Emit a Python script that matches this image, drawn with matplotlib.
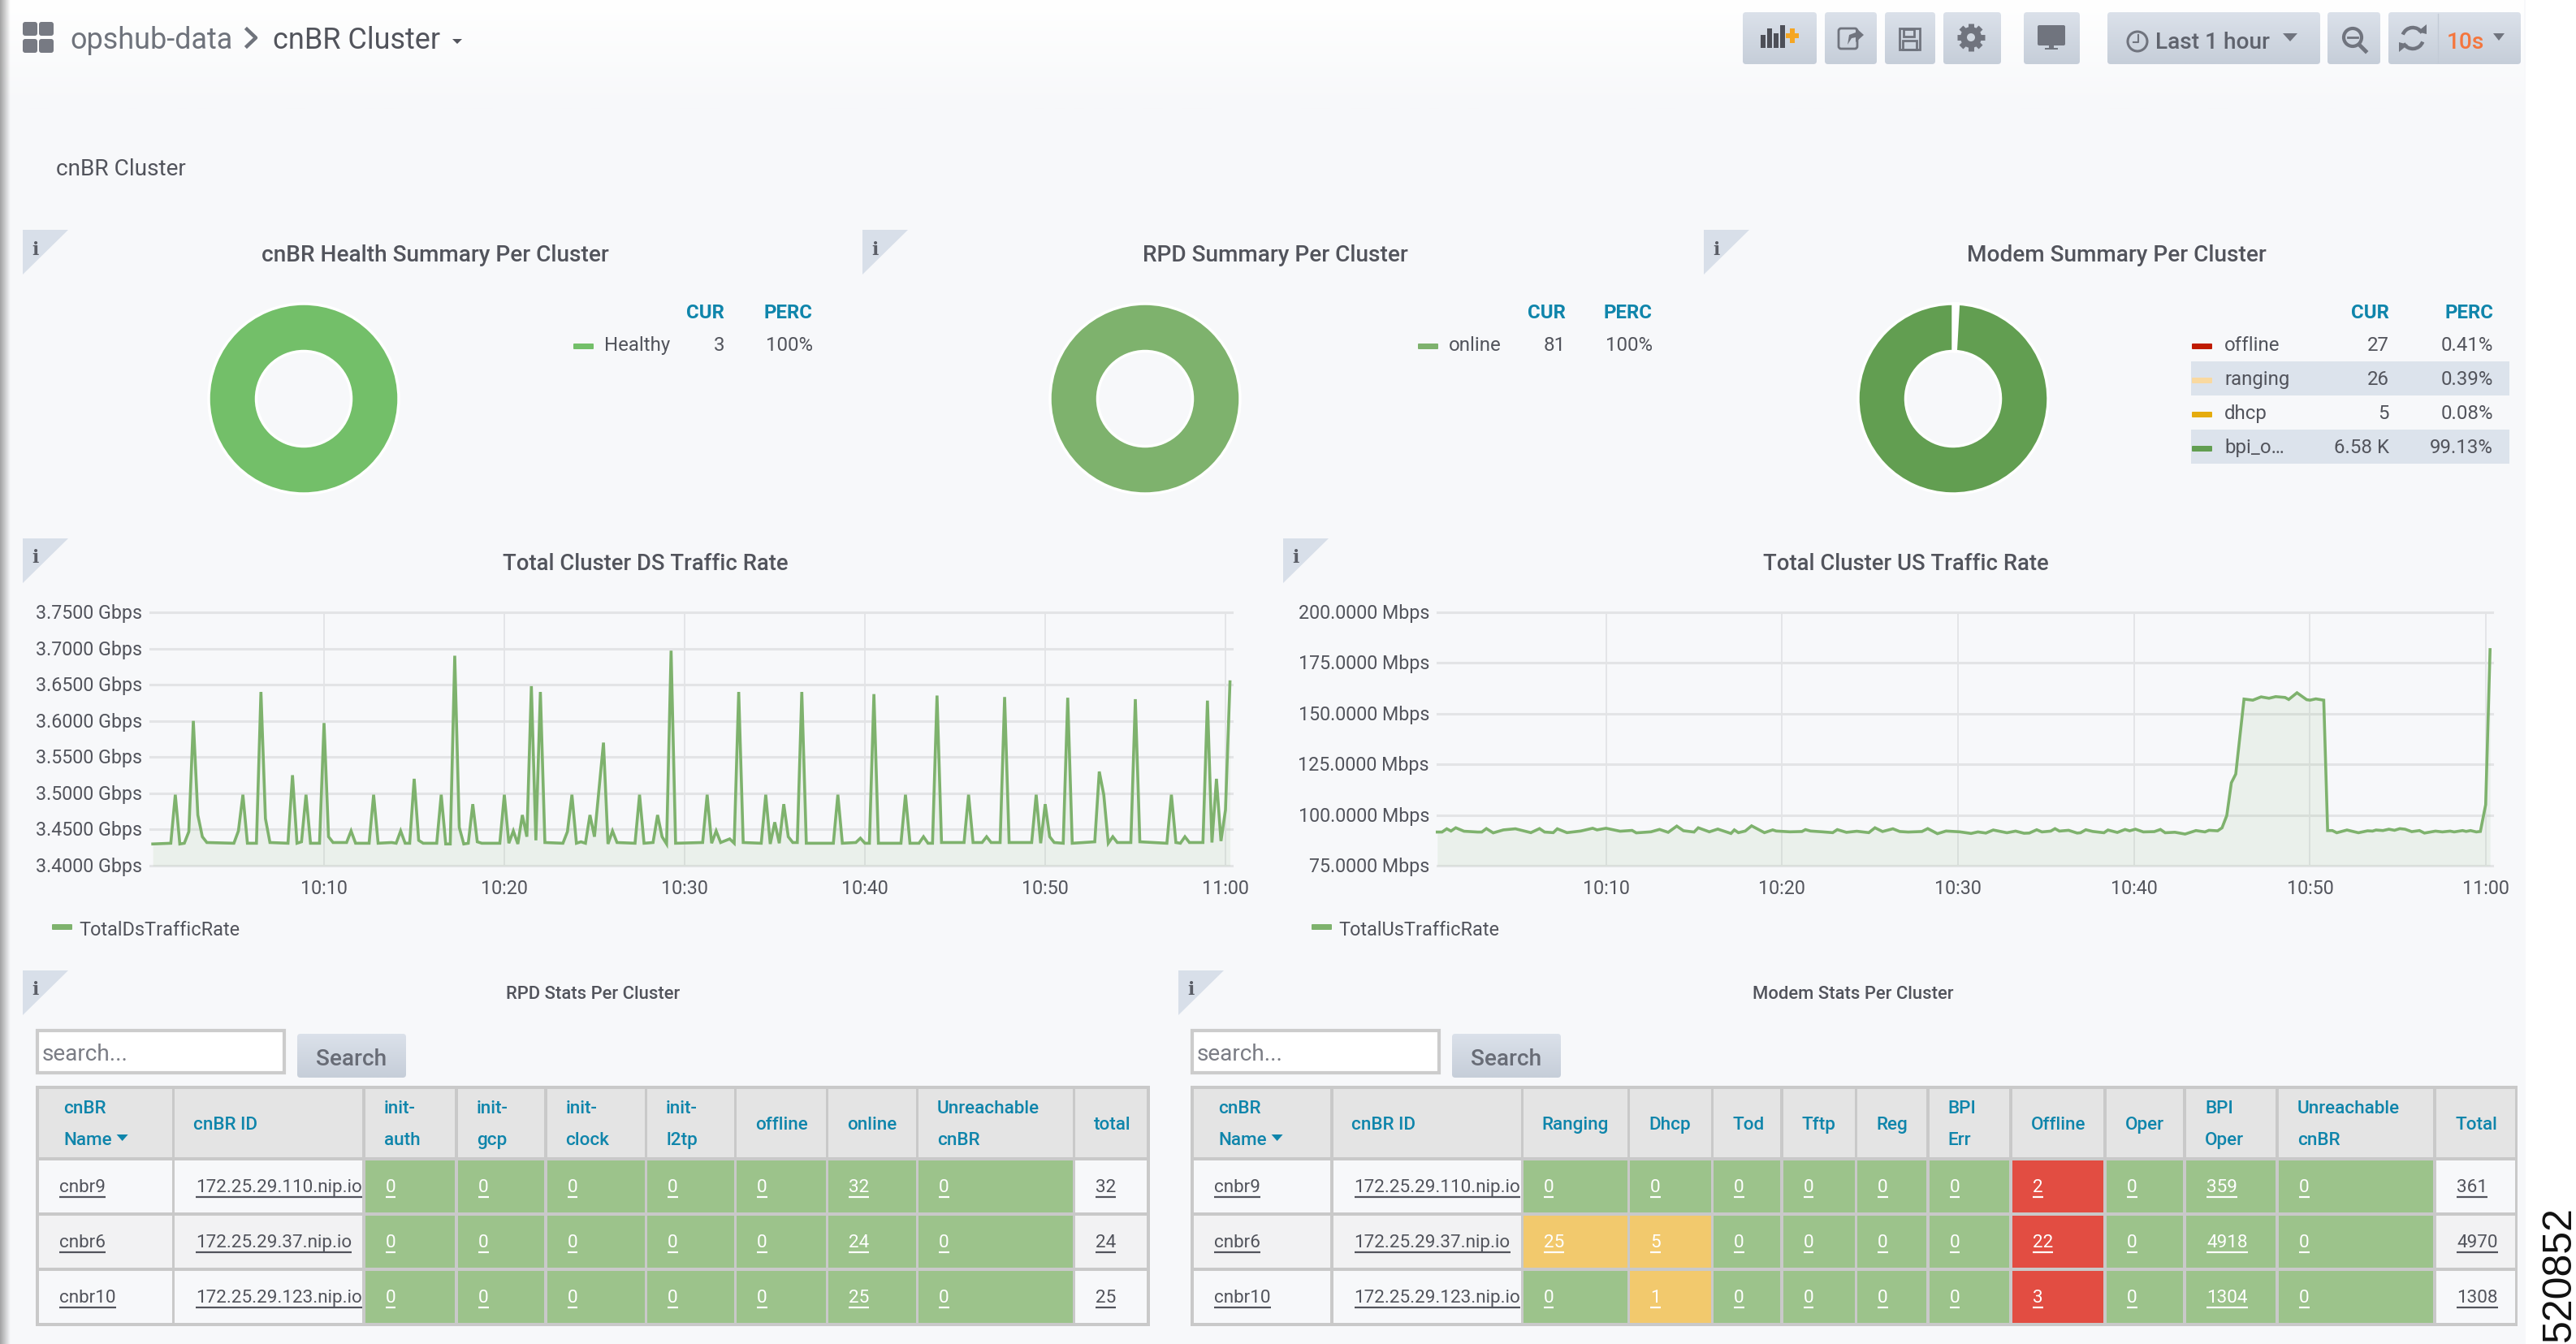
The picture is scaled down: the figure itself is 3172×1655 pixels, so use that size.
import numpy as np
import matplotlib
matplotlib.use("Agg")
import matplotlib.pyplot as plt
from matplotlib.patches import Rectangle, Polygon, FancyBboxPatch, Circle, Arc
from matplotlib.transforms import ScaledTranslation

W, H = 3172, 1656
plt.rcParams['font.family'] = ['Roboto', 'DejaVu Sans']

# data
health_labels = ["Healthy"]
health_cur = ["3"]
health_perc = ["100%"]
health_values = [3]
rpd_labels = ["online"]
rpd_cur = ["81"]
rpd_perc = ["100%"]
rpd_values = [81]
modem_labels = ["offline", "ranging", "dhcp", "bpi_o…"]
modem_cur = ["27", "26", "5", "6.58 K"]
modem_perc = ["0.41%", "0.39%", "0.08%", "99.13%"]
modem_values = [27, 26, 5, 6580]

ds_minutes = [0.5, 1.5, 1.75, 2.0, 2.25, 2.5, 2.75, 3.0, 3.25, 3.5, 5.0, 5.25, 5.5, 5.75, 6.25, 6.5, 6.75, 7.0,
              8.0, 8.25, 8.5, 8.75, 9.0, 9.25, 9.75, 10.0, 10.25, 10.5, 11.25, 11.5, 11.75, 12.5, 12.75, 13.0,
              13.75, 14.0, 14.25, 14.5, 14.75, 15.0, 15.25, 15.5, 16.25, 16.5, 16.75, 17.0, 17.25, 17.5, 17.75,
              18.0, 18.25, 18.5, 18.75, 19.75, 20.0, 20.25, 20.5, 20.75, 21.0, 21.25, 21.5, 21.75, 22.0, 22.25,
              23.25, 23.5, 23.75, 24.0, 24.25, 24.5, 24.75, 25.0, 25.5, 25.75, 26.0, 26.25, 27.25, 27.5, 27.75,
              28.25, 28.5, 28.75, 29.0, 29.25, 29.5, 31.0, 31.25, 31.5, 31.75, 32.0, 32.5, 32.75, 33.0, 33.25,
              34.25, 34.5, 34.75, 35.0, 35.25, 35.5, 35.75, 36.0, 36.25, 36.5, 36.75, 38.25, 38.5, 38.75, 39.5,
              39.75, 40.0, 40.25, 40.5, 40.75, 42.0, 42.25, 42.5, 43.0, 43.25, 43.5, 43.75, 44.0, 44.25, 45.5,
              45.75, 46.0, 46.5, 46.75, 47.0, 47.5, 47.75, 48.0, 49.25, 49.5, 49.75, 50.0, 50.25, 50.5, 51.0,
              51.25, 51.5, 52.75, 53.0, 53.25, 53.5, 53.75, 54.0, 54.75, 55.0, 55.25, 56.75, 57.0, 57.25, 57.5,
              57.75, 58.0, 58.75, 59.0, 59.25, 59.5, 59.75, 60.0, 60.25]
ds_values = [3.43, 3.431, 3.498, 3.43, 3.431, 3.447, 3.60, 3.47, 3.44, 3.432, 3.431, 3.448, 3.498, 3.431, 3.431, 3.64, 3.465, 3.432,
             3.431, 3.525, 3.431, 3.433, 3.498, 3.431, 3.431, 3.597, 3.44, 3.432, 3.432, 3.448, 3.431, 3.431, 3.498, 3.431,
             3.432, 3.431, 3.448, 3.431, 3.431, 3.52, 3.435, 3.431, 3.431, 3.498, 3.43, 3.43, 3.69, 3.453, 3.43,
             3.431, 3.485, 3.433, 3.431, 3.431, 3.498, 3.431, 3.448, 3.43, 3.47, 3.44, 3.648, 3.435, 3.64, 3.432,
             3.431, 3.447, 3.498, 3.431, 3.433, 3.431, 3.47, 3.44, 3.57, 3.43, 3.448, 3.432, 3.431, 3.498, 3.431,
             3.432, 3.47, 3.44, 3.43, 3.697, 3.431, 3.432, 3.498, 3.431, 3.448, 3.432, 3.437, 3.431, 3.64, 3.432,
             3.431, 3.498, 3.43, 3.46, 3.431, 3.485, 3.44, 3.432, 3.432, 3.64, 3.431, 3.431, 3.498, 3.431, 3.432,
             3.438, 3.431, 3.431, 3.637, 3.431, 3.431, 3.498, 3.431, 3.431, 3.44, 3.431, 3.431, 3.635, 3.432, 3.432,
             3.498, 3.432, 3.432, 3.44, 3.432, 3.432, 3.633, 3.432, 3.432, 3.498, 3.431, 3.485, 3.44, 3.432, 3.431,
             3.632, 3.431, 3.433, 3.53, 3.498, 3.431, 3.44, 3.432, 3.432, 3.63, 3.433, 3.431, 3.498, 3.432, 3.431,
             3.44, 3.432, 3.432, 3.628, 3.432, 3.52, 3.434, 3.477, 3.654]
ds_ticks = [3.40, 3.45, 3.50, 3.55, 3.60, 3.65, 3.70, 3.75]

us_minutes = [0.41, 0.68, 0.95, 1.19, 1.46, 1.93, 2.71, 2.94, 3.2, 3.59, 4.17, 4.85, 5.73, 6.22, 6.51, 7.0, 7.23, 7.78,
              8.56, 9.24, 9.49, 10.0, 10.8, 11.48, 11.72, 12.55, 13.04, 13.53, 14.02, 14.4, 15.0, 15.24, 15.87, 16.35,
              17.1, 17.29, 17.52, 17.91, 18.27, 19.0, 19.47, 19.67, 20.45, 21.13, 21.33, 21.62, 22.3, 22.88, 23.14,
              23.66, 24.25, 24.93, 25.28, 25.71, 26.3, 26.69, 27.17, 27.95, 28.28, 28.83, 29.32, 30.1, 30.74,
              31.13, 31.58, 32.0, 32.78, 33.27, 33.75, 34.05, 34.47, 34.77, 35.27, 35.51, 35.76, 36.28, 36.77, 36.96,
              37.26, 37.65, 38.29, 38.52, 39.05, 39.49, 39.75, 40.08, 40.53, 41.15, 41.5, 41.77, 42.32, 42.9, 43.52,
              44.03, 44.26, 44.75, 45.0, 45.27, 45.53, 45.78, 46.25, 46.75, 47.22, 47.67, 48.05, 48.58, 48.79, 49.26,
              49.81, 50.0, 50.33, 50.78, 51.0, 51.27, 51.52, 52.1, 52.75, 53.27, 53.55, 53.75, 54.14, 54.48, 54.8,
              55.1, 55.4, 55.78, 56.22, 56.5, 57.13, 57.52, 57.96, 58.19, 58.67, 58.87, 59.12, 59.45, 59.68, 59.98, 60.23]
us_values = [91.6, 91.6, 93.2, 92.1, 93.7, 92.0, 91.6, 91.6, 93.3, 91.2, 92.66, 93.2, 91.3, 93.3, 91.6, 91.3, 93.2, 91.3,
             92.1, 93.46, 92.66, 93.46, 92.0, 92.4, 91.2, 91.7, 92.9, 91.45, 94.53, 92.25, 91.6, 93.7, 91.7, 93.06,
             90.9, 92.66, 91.3, 92.1, 94.66, 91.3, 92.66, 92.1, 91.7, 91.86, 92.8, 92.1, 91.7, 91.3, 92.8,
             91.45, 92.0, 91.3, 93.7, 91.86, 93.2, 91.86, 91.6, 91.86, 93.3, 90.8, 92.1, 91.7, 90.9,
             91.66, 91.1, 92.6, 91.25, 92.06, 91.0, 91.1, 92.73, 91.66, 92.06, 93.27, 92.06, 92.46, 91.1, 91.25,
             92.73, 91.9, 91.25, 92.6, 91.4, 92.87, 92.2, 93.0, 91.66, 91.8, 92.87, 91.25, 91.5, 90.6, 92.33,
             91.66, 92.46, 92.2, 93.67, 99.73, 115.9, 120.2, 157.2, 156.66, 158.28, 157.6, 158.4, 158.0, 157.0, 160.3,
             156.9, 156.66, 157.3, 156.66, 92.33, 92.33, 91.25, 92.6, 91.25, 92.2, 92.06, 92.6, 92.33, 93.0, 92.46,
             93.27, 93.0, 91.8, 92.33, 91.1, 92.06, 91.66, 92.06, 91.66, 92.33, 91.9, 92.33, 91.66, 91.9, 105.1, 181.6]
us_ticks = [75, 100, 125, 150, 175, 200]
time_ticks = [10, 20, 30, 40, 50, 60]
time_labels = ["10:10", "10:20", "10:30", "10:40", "10:50", "11:00"]

cnbr_names = ["cnbr9", "cnbr6", "cnbr10"]
cnbr_ids = ["172.25.29.110.nip.io", "172.25.29.37.nip.io", "172.25.29.123.nip.io"]
rpd_headers = [["cnBR", "Name"], ["cnBR ID"], ["init-", "auth"], ["init-", "gcp"], ["init-", "clock"], ["init-", "l2tp"],
               ["offline"], ["online"], ["Unreachable", "cnBR"], ["total"]]
rpd_rows = [[0, 0, 0, 0, 0, 32, 0, 32], [0, 0, 0, 0, 0, 24, 0, 24], [0, 0, 0, 0, 0, 25, 0, 25]]
modem_headers = [["cnBR", "Name"], ["cnBR ID"], ["Ranging"], ["Dhcp"], ["Tod"], ["Tftp"], ["Reg"], ["BPI", "Err"],
                 ["Offline"], ["Oper"], ["BPI", "Oper"], ["Unreachable", "cnBR"], ["Total"]]
modem_rows = [[0, 0, 0, 0, 0, 0, 2, 0, 359, 0, 361],
              [25, 5, 0, 0, 0, 0, 22, 0, 4918, 0, 4970],
              [0, 1, 0, 0, 0, 0, 3, 0, 1304, 0, 1308]]

# colours
PANEL = "#f7f8fa"
TXT = "#52545c"
BLUE = "#0f85ab"
GREEN = "#7eb26d"
CELL_G = "#9cc38b"
CELL_Y = "#f2c96d"
CELL_R = "#e24d42"
GRID = "#c9c9c9"


def pt(px):
    return px * 0.72


fig = plt.figure(figsize=(W / 100, H / 100), dpi=100, facecolor=PANEL)
bg = fig.add_axes([0, 0, 1, 1])
bg.set_axis_off()

# header gradient, white margin and left shadow
grad = np.linspace(0, 1, 100).reshape(-1, 1)
rgb0, rgb1 = np.array([1, 1, 1]), np.array([0xf7, 0xf8, 0xfa]) / 255
bg.imshow(rgb0 + (rgb1 - rgb0) * grad[..., None], extent=[0, 3108, 135, 0], aspect='auto', zorder=0)
shadow = np.zeros((1, 60, 4))
shadow[..., :3] = 0.55
shadow[..., 3] = np.linspace(0.8, 0, 60)
bg.imshow(shadow, extent=[0, 13, 1656, 0], aspect='auto', zorder=5)
bg.add_patch(Rectangle((3110, 0), 62, H, color="white", lw=0, zorder=1))
bg.set_xlim(0, W)
bg.set_ylim(H, 0)


def text(x, y, s, px=24, color=TXT, ha='left', weight='normal', **kw):
    return bg.text(x, y, s, fontsize=pt(px), color=color, ha=ha, va='center_baseline', fontweight=weight, zorder=6, **kw)


def corner(x, y):
    bg.add_patch(Polygon([(x, y), (x + 56, y), (x, y + 55)], color="#d8dfe9", lw=0, zorder=2))
    text(x + 15, y + 21, "i", px=22, color="#5a5d66", ha='center', weight='bold', family='DejaVu Serif')


def button(x0, x1, y0=16, y1=80):
    g = bg.imshow(np.linspace(0, 1, 50).reshape(-1, 1), extent=[x0, x1, y1, y0], aspect='auto', zorder=3,
                  cmap=matplotlib.colors.LinearSegmentedColormap.from_list("b", ["#dbe1ea", "#c6ced9"]))
    p = FancyBboxPatch((x0 + 3, y0 + 3), x1 - x0 - 6, y1 - y0 - 6, boxstyle="round,pad=3,rounding_size=4", transform=bg.transData,
                       fc="none", ec="none")
    bg.add_patch(p)
    g.set_clip_path(p)


# top bar
text(86, 46, "opshub-data", px=36, color="#6f737c")
bg.plot([304, 315, 304], [37, 47.5, 58], color="#6f737c", lw=3.2, zorder=6)
text(336, 46, "cnBR Cluster", px=36, color=TXT)
bg.add_patch(Polygon([(557, 49), (569, 49), (563, 55)], color=TXT, lw=0, zorder=6))
for ix, iy in [(28, 28), (48, 28), (28, 49), (48, 49)]:
    bg.add_patch(FancyBboxPatch((ix + 2, iy + 2), 14, 13, boxstyle="round,pad=2,rounding_size=3", color="#777a83", lw=0, zorder=6))
text(69, 206, "cnBR Cluster", px=28)

for x0, x1 in [(2146, 2237), (2247, 2311), (2321, 2383), (2393, 2464), (2492, 2561), (2595, 2857), (2866, 2931), (2941, 3104)]:
    button(x0, x1)
bg.plot([3002, 3002], [18, 78], color="#c3cbd6", lw=1, zorder=6)
ICON = "#70747e"
# new panel icon
for bx, bh in [(2168, 16), (2176, 24), (2184, 18), (2192, 28)]:
    bg.add_patch(Rectangle((bx, 60 - bh), 6, bh, color="#4d4f57", lw=0, zorder=6))
bg.add_patch(Rectangle((2199, 42), 16, 6, color="#f5a623", lw=0, zorder=6))
bg.add_patch(Rectangle((2204, 36), 6, 18, color="#f5a623", lw=0, zorder=6))
# share, save
bg.add_patch(FancyBboxPatch((2265, 37), 21, 23, boxstyle="round,pad=1,rounding_size=3", fc="none", ec=ICON, lw=2, zorder=6))
bg.add_patch(Polygon([(2275, 56), (2277, 44), (2285, 41), (2285, 35), (2295, 44), (2285, 53), (2285, 47), (2280, 48)], color=ICON, lw=0, zorder=6))
bg.add_patch(Rectangle((2339, 36), 25, 26, fc="none", ec=ICON, lw=2, zorder=6))
bg.add_patch(Rectangle((2344, 37), 13, 9, fc="none", ec=ICON, lw=2, zorder=6))
bg.add_patch(Rectangle((2343, 51), 17, 11, fc="none", ec=ICON, lw=2, zorder=6))
# settings, monitor
bg.add_patch(Circle((2427, 47), 13, color=ICON, lw=0, zorder=6))
for a in np.deg2rad([0, 45, 90, 135]):
    bg.plot([2427 - 17 * np.cos(a), 2427 + 17 * np.cos(a)], [47 - 17 * np.sin(a), 47 + 17 * np.sin(a)],
            color=ICON, lw=5, solid_capstyle='butt', zorder=6)
bg.add_patch(Circle((2427, 47), 5, color="#d0d7e0", lw=0, zorder=7))
bg.add_patch(FancyBboxPatch((2510, 33), 32, 23, boxstyle="round,pad=1,rounding_size=2", color=ICON, lw=0, zorder=6))
bg.add_patch(Rectangle((2523, 57), 6, 3, color=ICON, lw=0, zorder=6))
bg.add_patch(Rectangle((2518, 60), 16, 2, color=ICON, lw=0, zorder=6))
# time range
bg.add_patch(Circle((2632, 52), 12, fc="none", ec=ICON, lw=2.2, zorder=6))
bg.plot([2633, 2633, 2627], [44, 53, 53], color=ICON, lw=1.5, zorder=6)
text(2654, 49, "Last 1 hour", px=28, color="#5f636d", weight='medium')
bg.add_patch(Polygon([(2811, 42), (2829, 42), (2820, 52)], color=ICON, lw=0, zorder=6))
# zoom out, refresh
bg.add_patch(Circle((2897, 47), 11, fc="none", ec=ICON, lw=3, zorder=6))
bg.plot([2891, 2903], [47, 47], color=ICON, lw=2, zorder=6)
bg.plot([2905, 2913], [56, 64], color=ICON, lw=3.5, zorder=6)
bg.add_patch(Arc((2971, 48), 26, 26, theta1=200, theta2=330, color=ICON, lw=3.2, zorder=6))
bg.add_patch(Arc((2971, 48), 26, 26, theta1=20, theta2=150, color=ICON, lw=3.2, zorder=6))
bg.add_patch(Polygon([(2977, 40), (2988, 31), (2988, 43)], color=ICON, lw=0, zorder=6))
bg.add_patch(Polygon([(2965, 56), (2954, 65), (2954, 53)], color=ICON, lw=0, zorder=6))
text(3013, 49, "10s", px=28, color="#f4763d", weight='medium')
bg.add_patch(Polygon([(3070, 42), (3084, 42), (3077, 51)], color=ICON, lw=0, zorder=6))

# panel corners and titles
for cx, cy in [(28, 284), (1062, 284), (2098, 284), (28, 664), (1580, 664), (28, 1196), (1451, 1196)]:
    corner(cx, cy)
for cx, cy, s in [(536, 311, "cnBR Health Summary Per Cluster"), (1570, 311, "RPD Summary Per Cluster"),
                  (2606, 311, "Modem Summary Per Cluster")]:
    text(cx, cy, s, px=28, ha='center', weight='medium')
for cx, cy, s in [(795, 692, "Total Cluster DS Traffic Rate"), (2347, 692, "Total Cluster US Traffic Rate")]:
    text(cx, cy, s, px=27.5, ha='center', weight='medium')
text(730, 1222, "RPD Stats Per Cluster", px=22, ha='center', weight='medium')
text(2282, 1222, "Modem Stats Per Cluster", px=22, ha='center', weight='medium')


def donut(cx, cy, values, colors):
    r = 117
    ax = fig.add_axes([(cx - r) / W, 1 - (cy + r) / H, 2 * r / W, 2 * r / H])
    ax.pie(values, colors=colors, startangle=90, counterclock=False, radius=1,
           wedgeprops=dict(width=0.5, edgecolor="white", linewidth=2.5))
    ax.set_xlim(-1, 1)
    ax.set_ylim(-1, 1)


donut(374, 492, health_values, ["#73bf69"])
donut(1410, 492, rpd_values, [GREEN])
donut(2405, 492, modem_values, ["#bf1b00", "#f9d9a0", "#e5ac0e", "#629e51"])


def legend(sw, lab, cur_r, perc_r, labels, cur, perc, colors, hl=None):
    text(cur_r, 383, "CUR", px=24, color=BLUE, ha='right', weight='bold')
    text(perc_r, 383, "PERC", px=24, color=BLUE, ha='right', weight='bold')
    for i, name in enumerate(labels):
        y = 423 + 42 * i
        if hl and i % 2 == 1:
            bg.add_patch(Rectangle((hl[0], y - 19), hl[1] - hl[0], 42, color="#dce3ec", lw=0, zorder=2))
        bg.add_patch(FancyBboxPatch((sw + 1, y + 2), 23, 5, boxstyle="round,pad=1,rounding_size=1", color=colors[i], lw=0, zorder=6))
        text(lab, y, name, px=24)
        text(cur_r, y, cur[i], px=24, ha='right')
        text(perc_r, y, perc[i], px=24, ha='right')


legend(706, 744, 892, 1001, health_labels, health_cur, health_perc, ["#73bf69"])
legend(1746, 1784, 1928, 2035, rpd_labels, rpd_cur, rpd_perc, [GREEN])
legend(2699, 2739, 2942, 3070, modem_labels, modem_cur, modem_perc, ["#bf1b00", "#f9d9a0", "#e5ac0e", "#629e51"], hl=(2698, 3090))


def traffic(x0, x1, xlim, minutes, values, yticks, ylabels, name, sw):
    y0, y1 = 755, 1067
    ax = fig.add_axes([x0 / W, 1 - y1 / H, (x1 - x0) / W, (y1 - y0) / H], facecolor="none")
    ax.set_xlim(*xlim)
    ax.set_ylim(yticks[0], yticks[-1])
    ax.fill_between(minutes, yticks[0], values, color=GREEN, alpha=0.1, lw=0)
    ax.plot(minutes, values, color=GREEN, lw=2.6, solid_joinstyle='miter', clip_on=False)
    ax.set_xticks(time_ticks, time_labels)
    ax.set_yticks(yticks, ylabels)
    ax.grid(axis='y', color="#e3e4e6", lw=2.2)
    ax.grid(axis='x', color="#dfe0e3", lw=1.1)
    ax.set_axisbelow(True)
    ax.tick_params(length=0, labelsize=pt(23.3), labelcolor=TXT)
    ax.tick_params(axis='x', pad=pt(16))
    ax.tick_params(axis='y', pad=pt(10))
    for s in ax.spines.values():
        s.set_visible(False)
    for g in ax.get_ygridlines():
        g.set_clip_on(False)
    for l in ax.get_yticklabels():
        l.set_transform(l.get_transform() + ScaledTranslation(0, 2 / 100, fig.dpi_scale_trans))
    bg.add_patch(FancyBboxPatch((sw + 1, 1140), 23, 5, boxstyle="round,pad=1,rounding_size=1", color=GREEN, lw=0, zorder=6))
    text(sw + 33, 1143, name, px=23.5)


traffic(185, 1517, (0.36, 60.36), ds_minutes, ds_values, ds_ticks, [f"{v:.4f} Gbps" for v in ds_ticks], "TotalDsTrafficRate", 64)
traffic(1770, 3069, (0.42, 60.36), us_minutes, us_values, us_ticks, [f"{v:.4f} Mbps" for v in us_ticks], "TotalUsTrafficRate", 1615)

# tables
renderer = fig.canvas.get_renderer()


def linked(x, y, s, color):
    t = text(x, y, s, px=22.5, color=color)
    e = t.get_window_extent(renderer)
    bg.plot([e.x0, e.x1], [y + 15, y + 15], color=color, lw=1.6, solid_capstyle='butt', zorder=6)


def cell_color(header, v):
    if header in ("Ranging", "Dhcp") and v > 0:
        return CELL_Y
    if header == "Offline" and v > 0:
        return CELL_R
    return CELL_G


def table(cols, outer, headers, rows, box_x):
    # search box
    bg.add_patch(Rectangle((box_x + 2, 1270), 304, 52, fc="white", ec="#cccccc", lw=3, zorder=2))
    text(box_x + 8, 1296, "search...", px=28, color="#7b7d85")
    button(box_x + 322, box_x + 456, 1274, 1328)
    text(box_x + 389, 1302, "Search", px=28, color="#686c76", ha='center', weight='medium')
    # grid background
    bg.add_patch(Rectangle((outer[0], 1338), outer[1] - outer[0], 296, color=GRID, lw=0, zorder=2))
    for (c0, c1), head in zip(cols, headers):
        bg.add_patch(Rectangle((c0, 1342), c1 - c0, 84, color="#e4e4e4", lw=0, zorder=3))
        pad = 30 if head[-1] == "Name" else 23
        if len(head) == 2:
            text(c0 + pad, 1363, head[0], px=22.5, color=BLUE, weight='medium')
            t = text(c0 + pad, 1402, head[1], px=22.5, color=BLUE, weight='medium')
            if head[1] == "Name":
                e = t.get_window_extent(renderer)
                bg.add_patch(Polygon([(e.x1 + 6, 1398), (e.x1 + 20, 1398), (e.x1 + 13, 1406)], color=BLUE, lw=0, zorder=6))
        else:
            text(c0 + pad, 1383, head[0], px=22.5, color=BLUE, weight='medium')
    for r in range(3):
        y0 = 1430 + 68 * r
        ymid = 1460 + 68 * r
        plain = "#f2f2f3" if r == 1 else PANEL
        bg.add_patch(Rectangle((cols[0][0], y0), cols[0][1] - cols[0][0], 64, color=plain, lw=0, zorder=3))
        bg.add_patch(Rectangle((cols[1][0], y0), cols[1][1] - cols[1][0], 64, color=plain, lw=0, zorder=3))
        linked(cols[0][0] + 25, ymid, cnbr_names[r], TXT)
        linked(cols[1][0] + 26, ymid, cnbr_ids[r], TXT)
        for j, v in enumerate(rows[r]):
            c0, c1 = cols[j + 2]
            last = j == len(rows[r]) - 1
            fill = plain if last else cell_color(headers[j + 2][0], v)
            bg.add_patch(Rectangle((c0, y0), c1 - c0, 64, color=fill, lw=0, zorder=3))
            linked(c0 + 25, ymid, str(v), TXT if last else "white")


rpd_cols = [(48, 212), (215, 446), (449.5, 560), (564, 670), (673.5, 794), (797, 904), (907, 1017), (1020, 1128), (1131, 1321), (1324, 1412)]
modem_cols = [(1470, 1638), (1641.5, 1872.5), (1875.5, 2004), (2007, 2107), (2110, 2192), (2195.5, 2284), (2287, 2372),
              (2375.5, 2474), (2478, 2590), (2594, 2688), (2692, 2802), (2806, 2996), (3000, 3096.5)]
table(rpd_cols, (44, 1416), rpd_headers, rpd_rows, 44)
table(modem_cols, (1466, 3100), modem_headers, modem_rows, 1466)

bg.text(3152, 1569, "520852", fontsize=pt(50), color="#111111", rotation=90, ha='center', va='center', family='Liberation Sans', zorder=6)

fig.savefig("out.png", dpi=100)
